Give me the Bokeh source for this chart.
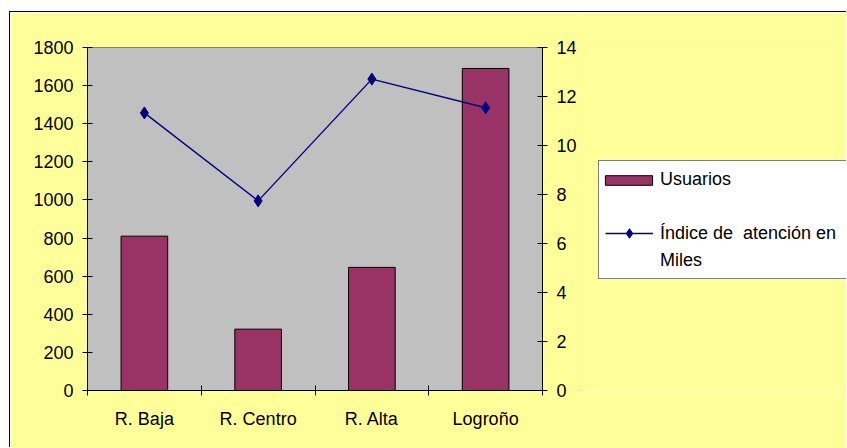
from bokeh.plotting import figure
from bokeh.models import (Range1d, LinearAxis, FixedTicker, Legend, LegendItem, Spacer)
from bokeh.layouts import column, row
from bokeh.embed import file_html
from bokeh.resources import INLINE

# ---- data ----
categories = ["R. Baja", "R. Centro", "R. Alta", "Logroño"]
usuarios = [810, 322, 646, 1690]
indice = [11.33, 7.74, 12.71, 11.54]
left_ticks = [0, 200, 400, 600, 800, 1000, 1200, 1400, 1600, 1800]
right_ticks = [0, 2, 4, 6, 8, 10, 12, 14]
series_names = ["Usuarios", "Índice de  atención en", "Miles"]

FONT = "Liberation Sans"
FS = "18px"
BAR_FILL = "#993366"
LINE_COL = "#000080"
YELLOW = "#FFFF99"

xs = [i + 0.5 for i in range(len(categories))]
bounds = list(range(len(categories) + 1))

# ---- main chart ----
p = figure(width=572, height=436, output_backend="svg", toolbar_location=None,
           x_range=Range1d(0, len(categories)), y_range=Range1d(0, 1800),
           min_border_left=77, min_border_right=40, min_border_top=35, min_border_bottom=58)
p.border_fill_color = YELLOW
p.background_fill_color = "#C0C0C0"
p.outline_line_color = "#808080"
p.xgrid.grid_line_color = None
p.ygrid.grid_line_color = None
p.styles = {"border-top": "1px solid black", "border-left": "1px solid black"}

p.extra_y_ranges = {"idx": Range1d(0, 14)}

p.vbar(x=xs, top=usuarios, width=0.41, bottom=0,
       fill_color=BAR_FILL, line_color="black", line_width=1)
p.line(x=xs, y=indice, y_range_name="idx", line_color=LINE_COL, line_width=1.4)
p.scatter(x=xs, y=indice, y_range_name="idx", marker="diamond", size=12,
          fill_color=LINE_COL, line_color=LINE_COL)

def style_axis(ax):
    ax.axis_line_color = "black"
    ax.major_tick_line_color = "black"
    ax.major_tick_in = 5
    ax.major_tick_out = 5
    ax.minor_tick_line_color = None
    ax.major_label_text_font = FONT
    ax.major_label_text_font_size = FS
    ax.major_label_text_color = "black"
    ax.major_label_standoff = 9

yl = p.yaxis[0]
yl.ticker = FixedTicker(ticks=left_ticks)
style_axis(yl)

yr = LinearAxis(y_range_name="idx", ticker=FixedTicker(ticks=right_ticks))
style_axis(yr)
p.add_layout(yr, "right")

xa = p.xaxis[0]
xa.ticker = FixedTicker(ticks=xs, minor_ticks=bounds)
xa.major_label_overrides = {x: c for x, c in zip(xs, categories)}
xa.axis_line_color = "black"
xa.major_tick_line_color = None
xa.major_tick_in = 0
xa.major_tick_out = 0
xa.minor_tick_line_color = "black"
xa.minor_tick_in = 5
xa.minor_tick_out = 5
xa.major_label_text_font = FONT
xa.major_label_text_font_size = FS
xa.major_label_text_color = "black"
xa.major_label_standoff = 13

# ---- legend panel ----
q = figure(width=265, height=436, output_backend="svg", toolbar_location=None,
           x_range=Range1d(0, 1), y_range=Range1d(0, 1),
           x_axis_location=None, y_axis_location=None,
           min_border=0, min_border_left=0, min_border_right=0,
           min_border_top=0, min_border_bottom=0)
q.border_fill_color = YELLOW
q.background_fill_color = YELLOW
q.outline_line_color = None
q.xgrid.grid_line_color = None
q.ygrid.grid_line_color = None
q.styles = {"border-top": "1px solid black"}

# legend key placeholders (one point each, outside the visible range)
key_x = [-5]
key_y = [-5]
bar_key = q.vbar(x=key_x, top=key_y, width=0.4, fill_color=BAR_FILL, line_color="black", line_width=1)
line_key = q.line(x=key_x, y=key_y, line_color=LINE_COL, line_width=1.4)
mark_key = q.scatter(x=key_x, y=key_y, marker="diamond", fill_color=LINE_COL, line_color=LINE_COL)
blank_key = q.scatter(x=key_x, y=key_y, fill_alpha=0, line_alpha=0)

leg_main = Legend(items=[
    LegendItem(label=series_names[0], renderers=[blank_key]),
    LegendItem(label=" ", renderers=[blank_key]),
    LegendItem(label=series_names[1], renderers=[line_key, mark_key]),
    LegendItem(label=series_names[2], renderers=[blank_key]),
], location=(17, 111), orientation="vertical",
    glyph_width=48, glyph_height=24, label_height=20, label_width=210,
    spacing=3, padding=6, margin=0,
    label_standoff=7, label_text_font=FONT, label_text_font_size=FS,
    label_text_color="black", border_line_color="black", border_line_width=1,
    background_fill_color="white", background_fill_alpha=1.0)
q.add_layout(leg_main, "center")

leg_sw = Legend(items=[LegendItem(label=" ", renderers=[bar_key])],
                location=(18, 204), glyph_width=59, glyph_height=12, label_height=12,
                padding=0, margin=0, spacing=0, label_text_font_size="1px",
                border_line_color=None, background_fill_alpha=0)
q.add_layout(leg_sw, "center")

layout = column(Spacer(width=847, height=11),
                row(Spacer(width=9, height=437), p, q))
open("out.html", "w").write(file_html(layout, INLINE))
